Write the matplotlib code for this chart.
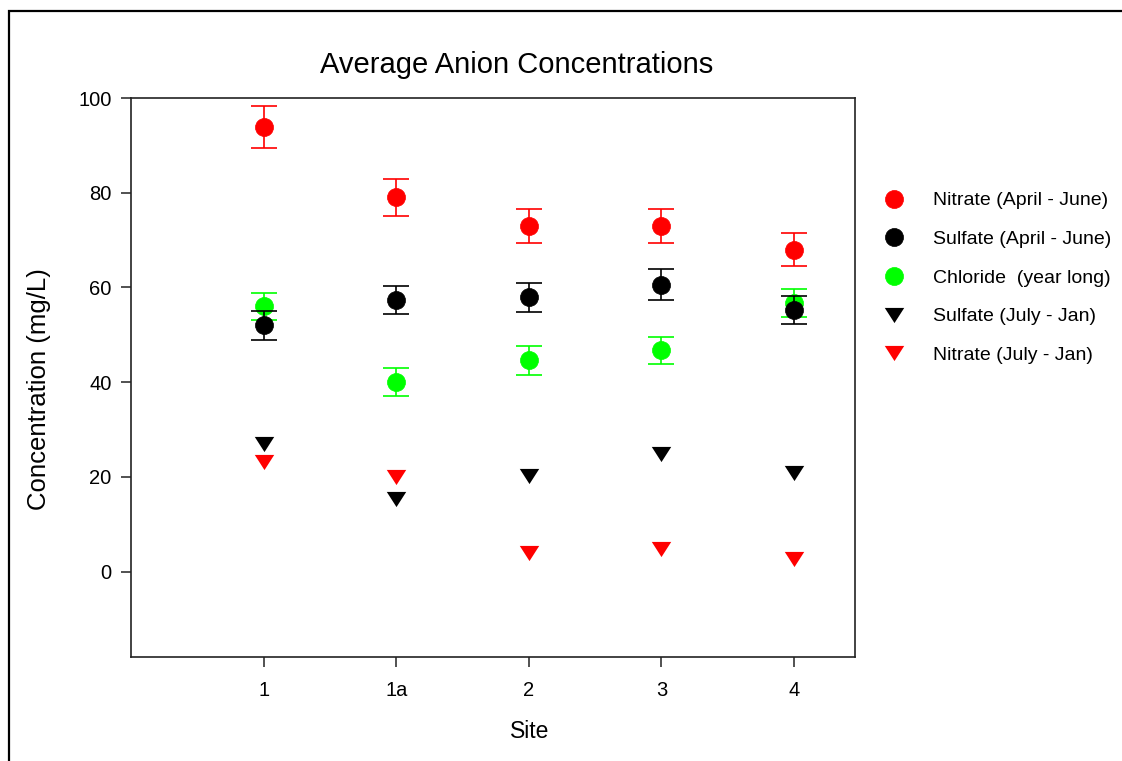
import matplotlib
matplotlib.use("Agg")
import matplotlib.pyplot as plt
from matplotlib.path import Path
from matplotlib.patches import Rectangle

plt.rcParams['font.family'] = ['Liberation Sans', 'DejaVu Sans']

# Sampling sites and mean concentrations (mg/L)
sites = ['1', '1a', '2', '3', '4']
nitrate_apr_jun = [93.9, 79.0, 73.0, 73.0, 68.0]
nitrate_apr_jun_err = [4.4, 4.0, 3.6, 3.6, 3.4]
sulfate_apr_jun = [52.0, 57.3, 57.9, 60.6, 55.3]
sulfate_apr_jun_err = [3.0, 3.0, 3.0, 3.2, 3.0]
chloride_year = [56.0, 40.0, 44.6, 46.7, 56.7]
chloride_year_err = [2.9, 3.0, 3.0, 2.9, 3.0]
sulfate_jul_jan = [27.0, 15.3, 20.3, 24.8, 20.8]
nitrate_jul_jan = [23.1, 19.9, 3.9, 4.7, 2.7]

RED = '#ff0000'
GREEN = '#00ff00'
BLACK = '#000000'

# Wide, flat down-pointing triangle
tri = Path([(-1.0, 0.78), (1.0, 0.78), (0.0, -0.78), (-1.0, 0.78)],
           [Path.MOVETO, Path.LINETO, Path.LINETO, Path.CLOSEPOLY])

fig = plt.figure(figsize=(11.22, 7.61), dpi=100)
ax = fig.add_axes([0.1168, 0.1367, 0.762 - 0.1168, 0.8712 - 0.1367])

x = list(range(1, len(sites) + 1))
ms_circle = 13
ms_tri = 14


def draw_errorbar(y, err, color, label, z):
    ax.errorbar(x, y, yerr=err, fmt='none', ecolor=color, capsize=9.5,
                elinewidth=1.2, capthick=1.2, zorder=z)
    ax.plot(x, y, linestyle='none', marker='o', markersize=ms_circle,
            color=color, markeredgecolor=color, markeredgewidth=0.5,
            label=label, zorder=z + 0.1)


draw_errorbar(nitrate_apr_jun, nitrate_apr_jun_err, RED,
              'Nitrate (April - June)', 3)
draw_errorbar(chloride_year, chloride_year_err, GREEN,
              'Chloride  (year long)', 3)
draw_errorbar(sulfate_apr_jun, sulfate_apr_jun_err, BLACK,
              'Sulfate (April - June)', 4)
ax.plot(x, sulfate_jul_jan, linestyle='none', marker=tri, markersize=ms_tri,
        color=BLACK, markeredgewidth=0, label='Sulfate (July - Jan)', zorder=3)
ax.plot(x, nitrate_jul_jan, linestyle='none', marker=tri, markersize=ms_tri,
        color=RED, markeredgewidth=0, label='Nitrate (July - Jan)', zorder=3)

ax.set_xlim(0, 5.46)
ax.set_ylim(-18, 100)
ax.set_xticks(x)
ax.set_xticklabels(sites)
ax.set_yticks([0, 20, 40, 60, 80, 100])

for s in ax.spines.values():
    s.set_linewidth(1.2)
    s.set_color('#222222')
ax.tick_params(direction='out', length=7, width=1.1, labelsize=14.5, pad=7,
               color='#222222')
ax.tick_params(axis='x', pad=10)

ax.set_xlabel('Site', fontsize=16.5)
ax.xaxis.set_label_coords(0.551, -0.112)
ax.set_ylabel('Concentration (mg/L)', fontsize=18.5)
ax.yaxis.set_label_coords(-0.11, 0.479)
ax.set_title('Average Anion Concentrations', fontsize=21, pad=18, x=0.533)

handles, labels = ax.get_legend_handles_labels()
order = ['Nitrate (April - June)', 'Sulfate (April - June)',
         'Chloride  (year long)', 'Sulfate (July - Jan)', 'Nitrate (July - Jan)']
hmap = dict(zip(labels, handles))
ax.legend([hmap[k] for k in order], order, loc='upper left',
          bbox_to_anchor=(1.03, 0.846), frameon=False, fontsize=14,
          labelspacing=1.08, handletextpad=1.5, handlelength=1.0,
          borderaxespad=0)

# Figure border
fig.patches.append(Rectangle((9 / 1122, -0.05), 1.2, 1.05 - 11 / 761,
                             transform=fig.transFigure, fill=False,
                             edgecolor='black', linewidth=1.6))

fig.savefig('out.png', dpi=100)
